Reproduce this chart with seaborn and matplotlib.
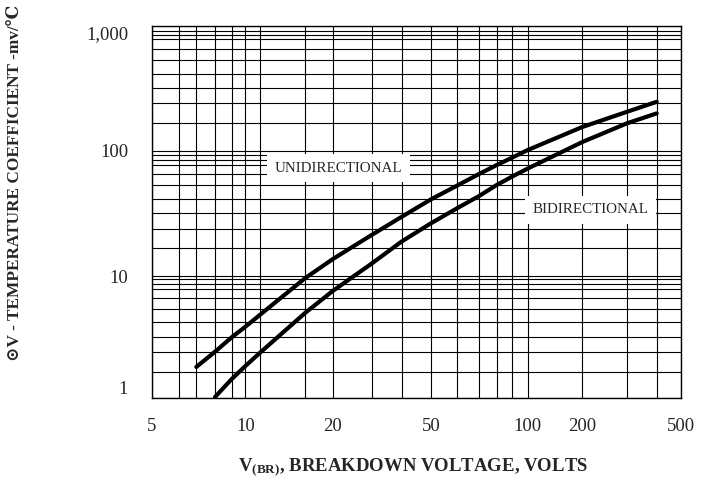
import numpy as np
import pandas as pd
import matplotlib
matplotlib.use("Agg")
import matplotlib.pyplot as plt
import seaborn as sns
from matplotlib.ticker import FixedLocator, FixedFormatter, NullFormatter

# ---- data ----
voltage_uni = [7, 8, 9, 10, 11, 15, 20, 30, 40, 50, 60, 70, 80, 90, 100, 200, 300, 400]
tc_uni = [1.62, 2.03, 3.0, 3.67, 4.53, 9.3, 12.8, 18.3, 27.4, 39.5, 49.1, 59.5, 69.3, 83.8, 101, 142, 177, 208]
voltage_bi = [8, 9, 10, 11, 15, 20, 30, 40, 50, 60, 70, 80, 90, 100, 200, 300, 400]
tc_bi = [1.02, 1.35, 1.64, 1.98, 4.69, 6.77, 12.0, 16.6, 23.2, 33.1, 41.7, 49.6, 57.1, 65.3, 113.7, 150, 173]

x_major = [5, 10, 20, 50, 100, 200, 500]
x_major_labels = ["5", "10", "20", "50", "100", "200", "500"]
x_minor = [6, 7, 8, 9, 11, 15, 30, 40, 60, 70, 80, 90, 300, 400]
y_major = [1, 10, 100, 1000]
y_major_labels = ["1", "10", "100", "1,000"]
y_minor = [1.5, 2, 3, 4, 5, 6, 7, 8, 9, 15, 20, 30, 40, 50, 60, 70, 80, 90,
           150, 200, 300, 400, 500, 600, 700, 800, 900]

# ---- layout of the (hand-drawn) log grid in the reference ----
x_grid_pos = [151.7, 179.3, 196.3, 215, 231.7, 245.3, 259.7, 305, 332.7, 371.7, 401.7,
              431, 457, 479, 496.7, 512.3, 527.7, 582.3, 627, 656.7, 681]
y_grid_pos = [398.3, 372.3, 352.3, 337.3, 322.3, 309.3, 298.3, 289, 284, 279.3, 276,
              248.3, 229, 213.3, 198.7, 184.5, 173.5, 164.5, 159.5, 154.5, 150.7,
              123.3, 103.3, 88, 74, 60, 49.3, 39.3, 35, 31, 25.7]

lx = np.log10(sorted(x_major + x_minor))
px = np.array(x_grid_pos)
ly = np.log10(sorted(y_major + y_minor))
py = -np.array(y_grid_pos)


def fx(v):
    return np.interp(np.log10(np.clip(v, 1e-9, None)), lx, px)


def ix(t):
    return 10 ** np.interp(t, px, lx)


def fy(v):
    return np.interp(np.log10(np.clip(v, 1e-9, None)), ly, py)


def iy(t):
    return 10 ** np.interp(t, py, ly)


df = pd.concat([
    pd.DataFrame({"voltage": voltage_uni, "tc": tc_uni, "type": "UNIDIRECTIONAL"}),
    pd.DataFrame({"voltage": voltage_bi, "tc": tc_bi, "type": "BIDIRECTIONAL"}),
])

sns.set_style("white")
plt.rcParams["font.family"] = ["Liberation Serif", "DejaVu Serif", "DejaVu Sans"]
plt.rcParams["mathtext.fontset"] = "custom"
plt.rcParams["mathtext.rm"] = "Liberation Serif"
plt.rcParams["mathtext.bf"] = "Liberation Serif:bold"

fig = plt.figure(figsize=(7.11, 4.95), dpi=100)
ax = fig.add_axes([151.7 / 711, 1 - 398.3 / 495, (681 - 151.7) / 711, (398.3 - 25.7) / 495])

sns.lineplot(data=df, x="voltage", y="tc", hue="type", units="type", estimator=None,
             palette={"UNIDIRECTIONAL": "black", "BIDIRECTIONAL": "black"},
             linewidth=3.0, legend=False, sort=True, ax=ax, zorder=5)

ax.set_xscale("function", functions=(fx, ix))
ax.set_yscale("function", functions=(fy, iy))
ax.set_xlim(5, 500)
ax.set_ylim(1, 1000)

ax.xaxis.set_major_locator(FixedLocator(x_major))
ax.xaxis.set_major_formatter(FixedFormatter(x_major_labels))
ax.xaxis.set_minor_locator(FixedLocator(x_minor))
ax.xaxis.set_minor_formatter(NullFormatter())
ax.yaxis.set_major_locator(FixedLocator(y_major))
ax.yaxis.set_major_formatter(FixedFormatter(y_major_labels))
ax.yaxis.set_minor_locator(FixedLocator(y_minor))
ax.yaxis.set_minor_formatter(NullFormatter())

ax.grid(which="both", color="black", linewidth=0.8)
ax.set_axisbelow(True)
ax.tick_params(which="both", length=0)
ax.tick_params(axis="x", labelsize=13.5, pad=14)
ax.tick_params(axis="y", labelsize=13.5, pad=17)
for s in ax.spines.values():
    s.set_color("black")
    s.set_linewidth(1.0)

yt = ax.yaxis.get_major_ticks()
yt[0].label1.set_verticalalignment("bottom")
yt[-1].label1.set_verticalalignment("top")

ax.set_xlabel(r"$\mathbf{V_{(BR)}}$, BREAKDOWN VOLTAGE, VOLTS", fontsize=13.5,
              fontweight="bold", va="center")
ax.xaxis.set_label_coords((413 - 151.7) / 529.3, (398.3 - 467) / 372.6)
ax.set_ylabel("⊙V - TEMPERATURE COEFFICIENT -mv/℃", fontsize=12.4, fontweight="bold",
              va="center")
ax.yaxis.set_label_coords((15 - 151.7) / 529.3, (398.3 - 183) / 372.6)

box = dict(boxstyle="square,pad=0.5", facecolor="white", edgecolor="none")
ax.text(0.3525, 0.6173, "UNIDIRECTIONAL", transform=ax.transAxes, ha="center",
        va="center", fontsize=10.8, bbox=box, zorder=4)
ax.text(0.829, 0.5054, "BIDIRECTIONAL", transform=ax.transAxes, ha="center",
        va="center", fontsize=10.8, bbox=box, zorder=4)

fig.savefig("out.png", dpi=100)
